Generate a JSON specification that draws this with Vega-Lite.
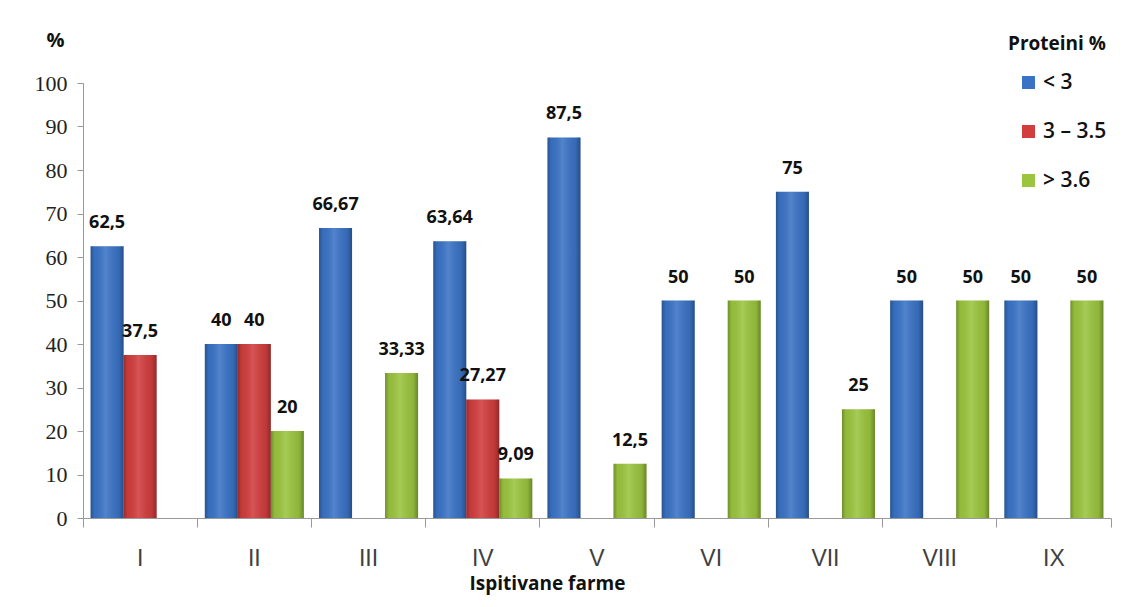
{
  "$schema": "https://vega.github.io/schema/vega-lite/v6.json",
  "width": 1028,
  "height": 435,
  "autosize": "none",
  "padding": {"left": 83, "top": 83, "right": 16, "bottom": 89},
  "background": "white",
  "config": {
    "view": {"stroke": null},
    "locale": {"number": {"decimal": ",", "thousands": ".", "grouping": [3], "currency": ["", ""]}}
  },
  "data": {
    "values": [
      {"farma": "I", "grupa": "< 3", "procenat": 62.5},
      {"farma": "I", "grupa": "3 – 3.5", "procenat": 37.5},
      {"farma": "II", "grupa": "< 3", "procenat": 40},
      {"farma": "II", "grupa": "3 – 3.5", "procenat": 40},
      {"farma": "II", "grupa": "> 3.6", "procenat": 20},
      {"farma": "III", "grupa": "< 3", "procenat": 66.67},
      {"farma": "III", "grupa": "> 3.6", "procenat": 33.33},
      {"farma": "IV", "grupa": "< 3", "procenat": 63.64},
      {"farma": "IV", "grupa": "3 – 3.5", "procenat": 27.27},
      {"farma": "IV", "grupa": "> 3.6", "procenat": 9.09},
      {"farma": "V", "grupa": "< 3", "procenat": 87.5},
      {"farma": "V", "grupa": "> 3.6", "procenat": 12.5},
      {"farma": "VI", "grupa": "< 3", "procenat": 50},
      {"farma": "VI", "grupa": "> 3.6", "procenat": 50},
      {"farma": "VII", "grupa": "< 3", "procenat": 75},
      {"farma": "VII", "grupa": "> 3.6", "procenat": 25},
      {"farma": "VIII", "grupa": "< 3", "procenat": 50},
      {"farma": "VIII", "grupa": "> 3.6", "procenat": 50},
      {"farma": "IX", "grupa": "< 3", "procenat": 50},
      {"farma": "IX", "grupa": "> 3.6", "procenat": 50}
    ]
  },
  "encoding": {
    "x": {
      "field": "farma",
      "type": "nominal",
      "sort": ["I", "II", "III", "IV", "V", "VI", "VII", "VIII", "IX"],
      "scale": {"paddingInner": 0, "paddingOuter": 0},
      "axis": {
        "title": "Ispitivane farme",
        "titleX": 464,
        "titleY": 65,
        "titleFont": "Open Sans",
        "titleFontSize": 19,
        "titleFontWeight": "bold",
        "titleColor": "#111",
        "titleAlign": "center",
        "titleBaseline": "middle",
        "labelAngle": 0,
        "labelFont": "Liberation Sans",
        "labelFontSize": 23,
        "labelColor": "#404040",
        "labelBaseline": "top",
        "labelPadding": 20,
        "tickSize": 9,
        "tickColor": "#999",
        "domainColor": "#999",
        "bandPosition": 1,
        "tickExtra": true
      }
    },
    "xOffset": {
      "field": "grupa",
      "type": "nominal",
      "scale": {"domain": ["< 3", "3 – 3.5", "> 3.6"], "paddingInner": 0, "paddingOuter": 0.23}
    },
    "y": {
      "field": "procenat",
      "type": "quantitative",
      "scale": {"domain": [0, 100]},
      "axis": {
        "values": [0, 10, 20, 30, 40, 50, 60, 70, 80, 90, 100],
        "grid": false,
        "title": "%",
        "titleAngle": 0,
        "titleX": -28,
        "titleY": -43,
        "titleAlign": "center",
        "titleBaseline": "middle",
        "titleFont": "Open Sans",
        "titleFontSize": 20,
        "titleFontWeight": "bold",
        "titleColor": "#111",
        "labelFont": "Liberation Serif",
        "labelFontSize": 22,
        "labelColor": "#222",
        "labelPadding": 10,
        "tickSize": 6,
        "tickColor": "#999",
        "domainColor": "#999"
      }
    }
  },
  "layer": [
    {
      "mark": {"type": "bar"},
      "encoding": {
        "color": {
          "field": "grupa",
          "type": "nominal",
          "scale": {"domain": ["< 3", "3 – 3.5", "> 3.6"], "range": ["#3A73C6", "#D23D3D", "#9BC53E"]},
          "legend": {
            "orient": "none",
            "legendX": 925,
            "legendY": -48,
            "title": "Proteini %",
            "titleFont": "Open Sans",
            "titleFontSize": 19,
            "titleFontWeight": "bold",
            "titleColor": "#111",
            "titlePadding": 18,
            "labelFont": "Open Sans",
            "labelFontSize": 21,
            "labelFontWeight": 600,
            "labelColor": "#111",
            "symbolType": "square",
            "symbolSize": 170,
            "symbolOffset": 10,
            "symbolStrokeWidth": 0,
            "rowPadding": 27
          }
        }
      }
    },
    {
      "mark": {
        "type": "bar",
        "fill": {
          "gradient": "linear",
          "x1": 0, "y1": 0, "x2": 1, "y2": 0,
          "stops": [
            {"offset": 0, "color": "rgba(0,0,0,0.28)"},
            {"offset": 0.12, "color": "rgba(0,0,0,0.05)"},
            {"offset": 0.45, "color": "rgba(255,255,255,0.12)"},
            {"offset": 0.85, "color": "rgba(0,0,0,0.08)"},
            {"offset": 1, "color": "rgba(0,0,0,0.32)"}
          ]
        }
      }
    },
    {
      "mark": {
        "type": "text",
        "baseline": "bottom",
        "dy": -14,
        "font": "Open Sans",
        "fontSize": 18,
        "fontWeight": "bold",
        "color": "#111"
      },
      "encoding": {
        "text": {"field": "procenat", "type": "quantitative", "format": "~g"}
      }
    }
  ]
}
